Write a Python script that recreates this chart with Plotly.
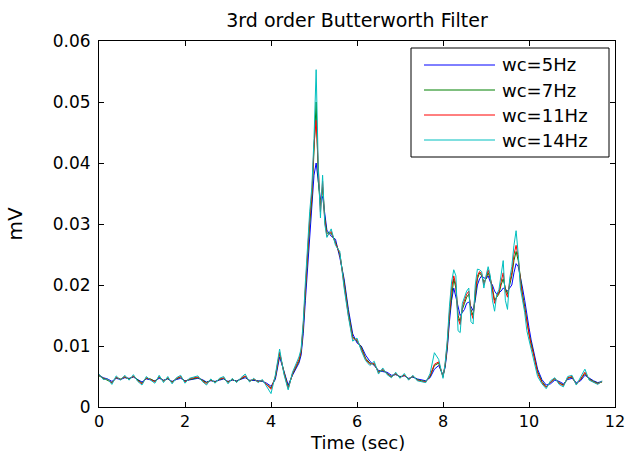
import plotly.graph_objects as go

time_s = [
    0.0, 0.1, 0.2, 0.3, 0.4, 0.5, 0.6, 0.7, 0.8, 0.9,
    1.0, 1.1, 1.2, 1.3, 1.4, 1.5, 1.6, 1.7, 1.8, 1.9,
    2.0, 2.1, 2.2, 2.3, 2.4, 2.5, 2.6, 2.7, 2.8, 2.9,
    3.0, 3.1, 3.2, 3.3, 3.4, 3.5, 3.6, 3.7, 3.8, 3.9,
    4.0, 4.1, 4.2, 4.3, 4.4, 4.5, 4.6,
    4.65, 4.7, 4.75, 4.8, 4.85, 4.9, 4.95, 5.0, 5.05, 5.1, 5.15, 5.2, 5.25, 5.3,
    5.4, 5.5, 5.6, 5.7, 5.8, 5.9, 6.0, 6.1, 6.2, 6.3, 6.4, 6.5, 6.6, 6.7,
    6.8, 6.9, 7.0, 7.1, 7.2, 7.3, 7.4, 7.5, 7.6, 7.7, 7.8, 7.9, 8.0,
    8.05, 8.1, 8.15, 8.2, 8.25, 8.3, 8.35, 8.4, 8.45, 8.5,
    8.55, 8.6, 8.65, 8.7, 8.75, 8.8, 8.85, 8.9, 8.95, 9.0,
    9.05, 9.1, 9.15, 9.2, 9.25, 9.3, 9.35, 9.4, 9.45, 9.5,
    9.55, 9.6, 9.65, 9.7, 9.75, 9.8, 9.85, 9.9, 9.95, 10.0,
    10.05,
    10.1, 10.2, 10.3, 10.4, 10.5, 10.6, 10.7, 10.8, 10.9, 11.0,
    11.1, 11.2, 11.3, 11.4, 11.5, 11.6, 11.7,
]

wc_5hz = [
    0.0052, 0.0048, 0.0046, 0.0042, 0.0047, 0.0045, 0.0048, 0.0047, 0.0049, 0.0045,
    0.0041, 0.0046, 0.0045, 0.0043, 0.0047, 0.0044, 0.0046, 0.0042, 0.0045, 0.0047,
    0.0043, 0.0044, 0.0046, 0.0047, 0.0045, 0.0041, 0.0043, 0.0042, 0.0044, 0.0046,
    0.0042, 0.0044, 0.0043, 0.0045, 0.0048, 0.0044, 0.0044, 0.0043, 0.0042, 0.0039,
    0.0034, 0.0045, 0.0082, 0.0060, 0.0036, 0.0052, 0.0066,
    0.0072, 0.0085, 0.0120, 0.0175, 0.0230, 0.0280, 0.0330, 0.0380, 0.0400, 0.0365,
    0.0340, 0.0345, 0.0315, 0.0290,
    0.0280, 0.0275, 0.0245, 0.0210, 0.0160, 0.0120, 0.0105, 0.0100, 0.0085, 0.0075,
    0.0068, 0.0060, 0.0058, 0.0057, 0.0052, 0.0053, 0.0050, 0.0051, 0.0047, 0.0049,
    0.0046, 0.0044, 0.0043, 0.0048, 0.0062, 0.0068, 0.0052,
    0.0065, 0.0095, 0.0140, 0.0175, 0.0195, 0.0180, 0.0160, 0.0150, 0.0155, 0.0160,
    0.0170, 0.0172, 0.0165, 0.0158, 0.0175, 0.0200, 0.0210, 0.0215, 0.0212, 0.0210,
    0.0215, 0.0205, 0.0200, 0.0190, 0.0185, 0.0188, 0.0190, 0.0195, 0.0192, 0.0190,
    0.0195, 0.0200, 0.0220, 0.0235, 0.0230, 0.0215, 0.0195, 0.0175, 0.0150, 0.0130,
    0.0110,
    0.0095, 0.0062, 0.0045, 0.0036, 0.0038, 0.0044, 0.0042, 0.0038, 0.0045, 0.0047,
    0.0040, 0.0043, 0.0052, 0.0047, 0.0043, 0.0040, 0.0042,
]

wc_7hz = [
    0.0051, 0.0047, 0.0044, 0.0040, 0.0048, 0.0046, 0.0049, 0.0046, 0.0050, 0.0044,
    0.0039, 0.0047, 0.0046, 0.0042, 0.0049, 0.0043, 0.0047, 0.0041, 0.0046, 0.0049,
    0.0042, 0.0045, 0.0047, 0.0048, 0.0044, 0.0040, 0.0044, 0.0041, 0.0045, 0.0047,
    0.0041, 0.0045, 0.0042, 0.0046, 0.0050, 0.0043, 0.0045, 0.0042, 0.0043, 0.0037,
    0.0031, 0.0048, 0.0088, 0.0058, 0.0032, 0.0054, 0.0070,
    0.0075, 0.0090, 0.0130, 0.0190, 0.0250, 0.0300, 0.0340, 0.0420, 0.0500, 0.0370,
    0.0330, 0.0360, 0.0310, 0.0285,
    0.0285, 0.0270, 0.0250, 0.0205, 0.0155, 0.0115, 0.0108, 0.0098, 0.0080, 0.0072,
    0.0070, 0.0058, 0.0060, 0.0055, 0.0050, 0.0054, 0.0049, 0.0052, 0.0046, 0.0050,
    0.0045, 0.0043, 0.0042, 0.0050, 0.0068, 0.0072, 0.0050,
    0.0068, 0.0100, 0.0150, 0.0185, 0.0210, 0.0195, 0.0150, 0.0140, 0.0160, 0.0170,
    0.0180, 0.0185, 0.0160, 0.0150, 0.0185, 0.0210, 0.0220, 0.0215, 0.0205, 0.0210,
    0.0220, 0.0210, 0.0195, 0.0175, 0.0180, 0.0185, 0.0200, 0.0210, 0.0195, 0.0185,
    0.0200, 0.0215, 0.0240, 0.0255, 0.0240, 0.0210, 0.0185, 0.0165, 0.0140, 0.0120,
    0.0105,
    0.0090, 0.0058, 0.0042, 0.0033, 0.0040, 0.0046, 0.0040, 0.0036, 0.0047, 0.0049,
    0.0038, 0.0045, 0.0055, 0.0046, 0.0042, 0.0039, 0.0041,
]

wc_11hz = [
    0.0053, 0.0046, 0.0045, 0.0039, 0.0049, 0.0045, 0.0050, 0.0045, 0.0051, 0.0043,
    0.0038, 0.0048, 0.0045, 0.0041, 0.0050, 0.0042, 0.0048, 0.0040, 0.0047, 0.0050,
    0.0041, 0.0046, 0.0048, 0.0049, 0.0043, 0.0038, 0.0045, 0.0040, 0.0046, 0.0048,
    0.0040, 0.0046, 0.0041, 0.0047, 0.0051, 0.0042, 0.0046, 0.0041, 0.0044, 0.0036,
    0.0029, 0.0050, 0.0090, 0.0056, 0.0030, 0.0055, 0.0072,
    0.0078, 0.0092, 0.0135, 0.0195, 0.0255, 0.0310, 0.0350, 0.0430, 0.0470, 0.0380,
    0.0320, 0.0370, 0.0305, 0.0280,
    0.0288, 0.0268, 0.0252, 0.0200, 0.0150, 0.0112, 0.0110, 0.0095, 0.0078, 0.0070,
    0.0072, 0.0056, 0.0062, 0.0054, 0.0049, 0.0055, 0.0048, 0.0053, 0.0045, 0.0051,
    0.0044, 0.0042, 0.0041, 0.0052, 0.0070, 0.0074, 0.0049,
    0.0070, 0.0105, 0.0155, 0.0195, 0.0215, 0.0200, 0.0145, 0.0135, 0.0165, 0.0175,
    0.0185, 0.0190, 0.0155, 0.0145, 0.0190, 0.0215, 0.0222, 0.0218, 0.0200, 0.0212,
    0.0225, 0.0212, 0.0190, 0.0170, 0.0182, 0.0188, 0.0205, 0.0220, 0.0190, 0.0180,
    0.0205, 0.0220, 0.0250, 0.0265, 0.0245, 0.0205, 0.0180, 0.0160, 0.0135, 0.0115,
    0.0100,
    0.0088, 0.0055, 0.0040, 0.0032, 0.0041, 0.0047, 0.0039, 0.0035, 0.0048, 0.0050,
    0.0037, 0.0046, 0.0057, 0.0045, 0.0041, 0.0038, 0.0042,
]

wc_14hz = [
    0.0054, 0.0045, 0.0046, 0.0037, 0.0051, 0.0044, 0.0052, 0.0044, 0.0053, 0.0042,
    0.0036, 0.0050, 0.0044, 0.0039, 0.0052, 0.0040, 0.0050, 0.0038, 0.0048, 0.0052,
    0.0039, 0.0047, 0.0049, 0.0051, 0.0042, 0.0036, 0.0046, 0.0039, 0.0047, 0.0050,
    0.0038, 0.0047, 0.0040, 0.0048, 0.0054, 0.0041, 0.0047, 0.0040, 0.0045, 0.0034,
    0.0022, 0.0052, 0.0095, 0.0054, 0.0028, 0.0057, 0.0075,
    0.0082, 0.0095, 0.0140, 0.0205, 0.0265, 0.0320, 0.0360, 0.0440, 0.0553, 0.0390,
    0.0310, 0.0380, 0.0300, 0.0278,
    0.0292, 0.0265, 0.0255, 0.0195, 0.0148, 0.0108, 0.0113, 0.0092, 0.0076, 0.0068,
    0.0075, 0.0054, 0.0064, 0.0053, 0.0048, 0.0057, 0.0047, 0.0055, 0.0044, 0.0052,
    0.0043, 0.0041, 0.0040, 0.0055, 0.0089, 0.0078, 0.0047,
    0.0072, 0.0110, 0.0165, 0.0205, 0.0225, 0.0215, 0.0125, 0.0122, 0.0170, 0.0182,
    0.0190, 0.0195, 0.0140, 0.0136, 0.0200, 0.0226, 0.0225, 0.0222, 0.0195, 0.0215,
    0.0230, 0.0215, 0.0175, 0.0157, 0.0185, 0.0192, 0.0215, 0.0240, 0.0175, 0.0160,
    0.0210, 0.0230, 0.0265, 0.0289, 0.0250, 0.0195, 0.0175, 0.0155, 0.0125, 0.0110,
    0.0095,
    0.0085, 0.0050, 0.0038, 0.0030, 0.0043, 0.0048, 0.0037, 0.0033, 0.0050, 0.0052,
    0.0036, 0.0048, 0.0062, 0.0044, 0.0040, 0.0037, 0.0043,
]

series_names = ["wc=5Hz", "wc=7Hz", "wc=11Hz", "wc=14Hz"]
series_values = [wc_5hz, wc_7hz, wc_11hz, wc_14hz]
series_colors = ["#0000FF", "#008000", "#FF0000", "#00BFBF"]

x_ticks = [0, 2, 4, 6, 8, 10, 12]
y_ticks = [0, 0.01, 0.02, 0.03, 0.04, 0.05, 0.06]
y_tick_labels = ["0", "0.01", "0.02", "0.03", "0.04", "0.05", "0.06"]

FONT = "DejaVu Sans"
W, H = 631, 454
ML, MR, MT, MB = 99, 16, 41, 47

fig = go.Figure()
for name, vals, col in zip(series_names, series_values, series_colors):
    fig.add_trace(go.Scatter(
        x=time_s, y=vals, mode="lines", name=name,
        line=dict(color=col, width=1), showlegend=False,
    ))

# Custom MATLAB-style legend (box with long line samples)
pw = W - ML - MR
ph = H - MT - MB
def px_x(p):
    return (p - ML) / pw
def px_y(p):
    return 1 - (p - MT) / ph

shapes = [dict(type="rect", xref="paper", yref="paper",
               x0=px_x(411), x1=px_x(609), y0=px_y(157), y1=px_y(48),
               line=dict(color="black", width=1), fillcolor="white", layer="above")]
annotations = []
row_y = [65, 90, 115, 140]
for name, col, ry in zip(series_names, series_colors, row_y):
    shapes.append(dict(type="line", xref="paper", yref="paper",
                       x0=px_x(424), x1=px_x(495), y0=px_y(ry), y1=px_y(ry),
                       line=dict(color=col, width=1), layer="above"))
    annotations.append(dict(xref="paper", yref="paper", x=px_x(500), y=px_y(ry),
                            text=name, showarrow=False, xanchor="left", yanchor="middle",
                            font=dict(family=FONT, size=18, color="black")))

# x-axis title placed as text at the bottom of the figure
annotations.append(dict(xref="paper", yref="paper", x=0.5, y=px_y(442),
                        text="Time (sec)", showarrow=False, xanchor="center",
                        yanchor="middle", borderpad=0,
                        font=dict(family=FONT, size=18, color="black")))

fig.update_layout(
    width=W, height=H,
    margin=dict(l=ML, r=MR, t=MT, b=MB, pad=0, autoexpand=False),
    paper_bgcolor="white", plot_bgcolor="white",
    font=dict(family=FONT, size=17, color="black"),
    title=dict(text="3rd order Butterworth Filter", x=(ML + pw / 2) / W, xanchor="center",
               y=1 - 20 / H, yanchor="middle", yref="container",
               font=dict(family=FONT, size=19, color="black")),
    shapes=shapes, annotations=annotations,
    showlegend=False,
)
fig.update_xaxes(
    range=[0, 12], tickvals=x_ticks, ticks="inside", ticklen=5, tickcolor="black",
    showline=True, linecolor="black", linewidth=1, mirror="ticks", showgrid=False,
    zeroline=False, automargin=False, ticklabelstandoff=0,
    tickfont=dict(family=FONT, size=16),
)
fig.update_yaxes(
    range=[0, 0.06], tickvals=y_ticks, ticktext=y_tick_labels, ticks="inside", ticklen=5,
    tickcolor="black", showline=True, linecolor="black", linewidth=1, mirror="ticks",
    showgrid=False, zeroline=False, automargin=False, ticklabelstandoff=4,
    title=dict(text="mV", standoff=24),
    tickfont=dict(family=FONT, size=17),
)

fig.write_html("out.html")
